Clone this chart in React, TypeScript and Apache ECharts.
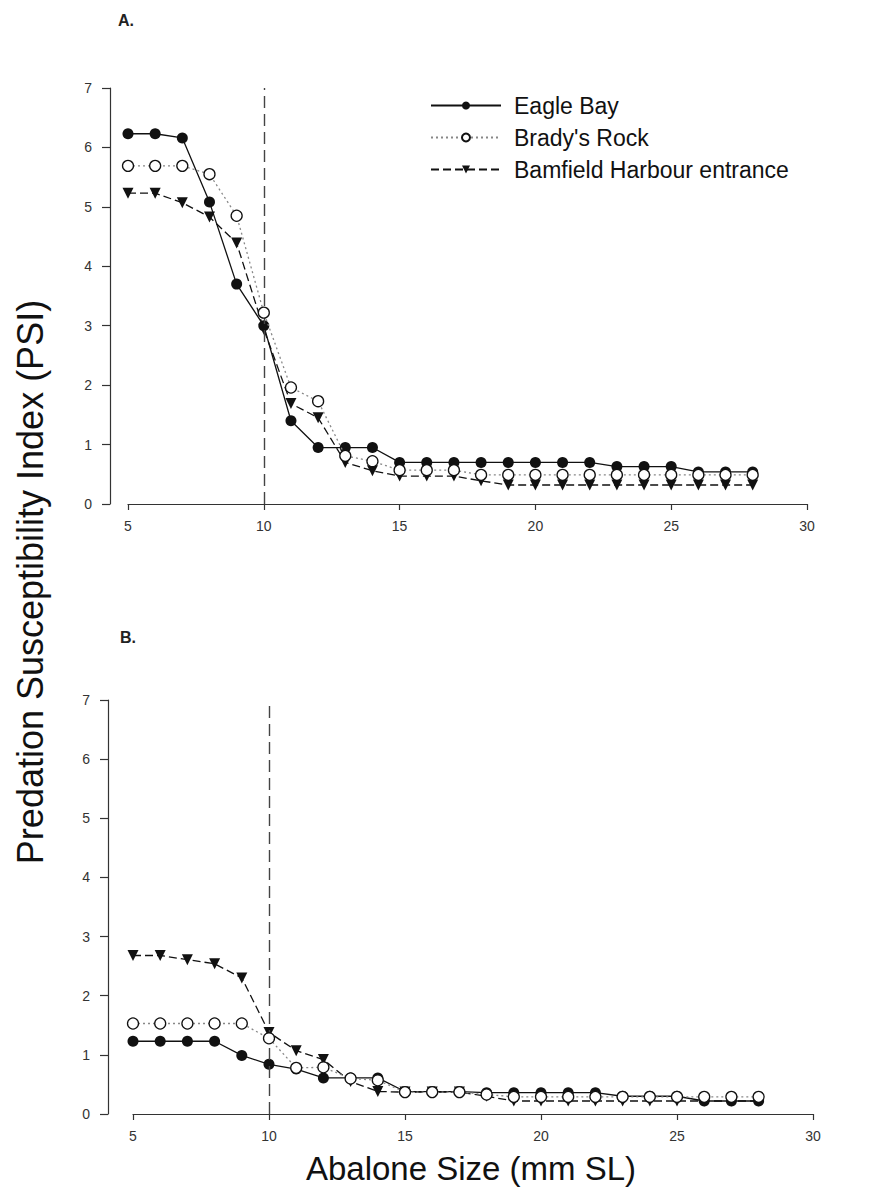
import React, { useEffect, useRef } from "react";
import * as echarts from "echarts";

const sizes = [5, 6, 7, 8, 9, 10, 11, 12, 13, 14, 15, 16, 17, 18, 19, 20, 21, 22, 23, 24, 25, 26, 27, 28];
const xTicks = [5, 10, 15, 20, 25, 30];
const siteNames = ["Eagle Bay", "Brady's Rock", "Bamfield Harbour entrance"];

// Panel A
const eagleA = [6.23, 6.23, 6.16, 5.08, 3.7, 3.0, 1.4, 0.95, 0.95, 0.95, 0.7, 0.7, 0.7, 0.7, 0.7, 0.7, 0.7, 0.7, 0.63, 0.63, 0.63, 0.54, 0.54, 0.54];
const bradyA = [5.69, 5.69, 5.69, 5.55, 4.85, 3.22, 1.96, 1.73, 0.81, 0.72, 0.57, 0.57, 0.57, 0.49, 0.49, 0.49, 0.49, 0.49, 0.49, 0.49, 0.49, 0.49, 0.49, 0.49];
const bamA = [5.23, 5.23, 5.07, 4.83, 4.39, 2.94, 1.69, 1.45, 0.7, 0.56, 0.47, 0.47, 0.47, 0.39, 0.32, 0.32, 0.32, 0.32, 0.32, 0.32, 0.32, 0.32, 0.32, 0.32];

// Panel B
const eagleB = [1.23, 1.23, 1.23, 1.23, 0.99, 0.84, 0.76, 0.61, 0.61, 0.61, 0.38, 0.38, 0.38, 0.36, 0.36, 0.36, 0.36, 0.36, 0.3, 0.3, 0.3, 0.22, 0.22, 0.22];
const bradyB = [1.53, 1.53, 1.53, 1.53, 1.53, 1.28, 0.78, 0.79, 0.6, 0.57, 0.37, 0.37, 0.37, 0.33, 0.29, 0.29, 0.29, 0.29, 0.29, 0.29, 0.29, 0.29, 0.29, 0.29];
const bamB = [2.68, 2.68, 2.61, 2.54, 2.3, 1.38, 1.07, 0.92, 0.55, 0.38, 0.37, 0.37, 0.37, 0.3, 0.22, 0.22, 0.22, 0.22, 0.22, 0.22, 0.22, 0.22, 0.22, 0.22];

const cutoffSize = 10;

const FONT = "Liberation Sans, Arial, sans-serif";
const AX = "#333";

function pairs(vals: number[]) {
  return sizes.map((x, i) => [x, vals[i]]);
}

function makeSeries(gi: number, eagle: number[], brady: number[], bam: number[]) {
  return [
    {
      type: "line",
      name: siteNames[2],
      xAxisIndex: gi,
      yAxisIndex: gi,
      data: pairs(bam),
      symbol: "triangle",
      symbolRotate: 180,
      symbolSize: 11,
      itemStyle: { color: "#111" },
      lineStyle: { color: "#111", width: 1.3, type: [8, 4] },
      z: 3,
    },
    {
      type: "line",
      name: siteNames[0],
      xAxisIndex: gi,
      yAxisIndex: gi,
      data: pairs(eagle),
      symbol: "circle",
      symbolSize: 11,
      itemStyle: { color: "#111" },
      lineStyle: { color: "#111", width: 1.3, type: "solid" },
      z: 4,
      markLine: {
        silent: true,
        symbol: ["none", "none"],
        label: { show: false },
        lineStyle: { color: "#444", width: 1.4, type: [12, 6] },
        data: [{ xAxis: cutoffSize }],
      },
    },
    {
      type: "line",
      name: siteNames[1],
      xAxisIndex: gi,
      yAxisIndex: gi,
      data: pairs(brady),
      symbol: "circle",
      symbolSize: 11,
      itemStyle: { color: "#fff", borderColor: "#111", borderWidth: 1.3 },
      lineStyle: { color: "#888", width: 1.3, type: [2, 3] },
      z: 5,
    },
  ];
}

function xAxisDef(gi: number) {
  return {
    gridIndex: gi,
    type: "value",
    min: 5,
    max: 30,
    interval: 5,
    axisLine: { show: true, lineStyle: { color: AX, width: 1.2 } },
    axisTick: { show: true, length: 6, inside: false, lineStyle: { color: AX, width: 1.2 } },
    axisLabel: { margin: 15, fontSize: 14, color: "#333", fontFamily: FONT, customValues: xTicks },
    splitLine: { show: false },
  };
}

function yAxisDef(gi: number, offset: number) {
  return {
    gridIndex: gi,
    type: "value",
    min: 0,
    max: 7,
    interval: 1,
    offset,
    axisLine: { show: true, lineStyle: { color: AX, width: 1.2 } },
    axisTick: { show: true, length: 8, lineStyle: { color: AX, width: 1.2 } },
    axisLabel: { margin: 18, fontSize: 14, color: "#333", fontFamily: FONT },
    splitLine: { show: false },
  };
}

export default function App() {
  const ref = useRef<HTMLDivElement>(null);
  useEffect(() => {
    if (!ref.current) return;
    const chart = echarts.init(ref.current, null, { renderer: "svg" });
    const option: any = {
      animation: false,
      backgroundColor: "#fff",
      grid: [
        { left: 128, top: 88, width: 679, height: 416, outerBoundsMode: "none", containLabel: false },
        { left: 133, top: 700, width: 680, height: 414, outerBoundsMode: "none", containLabel: false },
      ],
      xAxis: [xAxisDef(0), xAxisDef(1)],
      yAxis: [yAxisDef(0, 18), yAxisDef(1, 25)],
      legend: {
        orient: "vertical",
        left: 425,
        top: 89,
        itemWidth: 70,
        itemHeight: 10,
        itemGap: 9,
        data: siteNames,
        textStyle: { fontSize: 23, fontFamily: FONT, color: "#111", padding: [0, 0, 0, 8] },
      },
      series: [...makeSeries(0, eagleA, bradyA, bamA), ...makeSeries(1, eagleB, bradyB, bamB)],
      graphic: [
        { type: "text", left: 118, top: 12, style: { text: "A.", fontSize: 16, fontWeight: "bold", fontFamily: FONT, fill: "#222" } },
        { type: "text", left: 120, top: 629, style: { text: "B.", fontSize: 16, fontWeight: "bold", fontFamily: FONT, fill: "#222" } },
        {
          type: "text",
          x: 30,
          y: 582,
          rotation: Math.PI / 2,
          style: {
            text: "Predation Susceptibility Index (PSI)",
            fontSize: 36,
            fontFamily: FONT,
            fill: "#111",
            align: "center",
            verticalAlign: "middle",
          },
        },
        {
          type: "text",
          x: 471,
          y: 1168,
          style: {
            text: "Abalone Size (mm SL)",
            fontSize: 33,
            fontFamily: FONT,
            fill: "#111",
            align: "center",
            verticalAlign: "middle",
          },
        },
      ],
    };
    chart.setOption(option);
    return () => chart.dispose();
  }, []);
  return <div ref={ref} style={{ position: "absolute", left: 0, top: 0, width: 878, height: 1198 }} />;
}
